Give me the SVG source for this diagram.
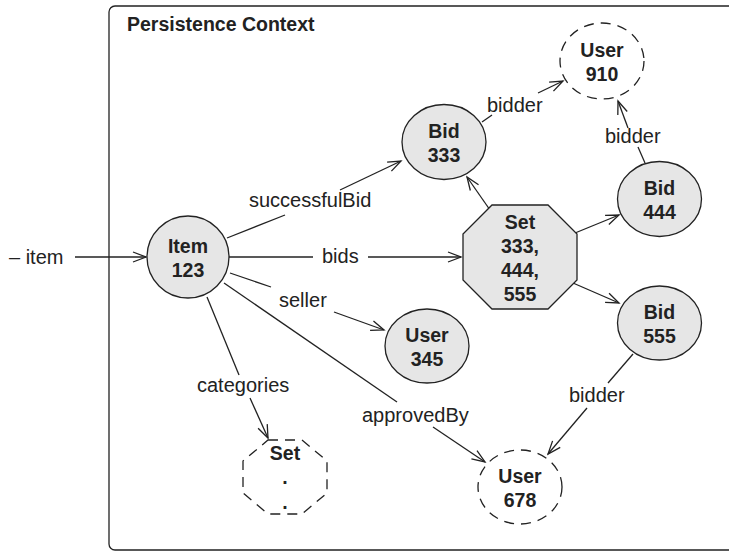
<svg xmlns="http://www.w3.org/2000/svg" width="729" height="552" viewBox="0 0 729 552">
<style>
text{font-family:"Liberation Sans",Arial,Helvetica,sans-serif;fill:#222}
.lbl{font-size:20px}
.nt{font-size:19.5px;font-weight:bold;text-anchor:middle}
.title{font-size:19.5px;font-weight:bold}
.node{fill:#e6e6e6;stroke:#222;stroke-width:1.3}
.dash{fill:none;stroke:#222;stroke-width:1.3;stroke-dasharray:10 7}
.c line{stroke:#222;stroke-width:1.3;fill:none}
</style>
<defs>
<marker id="arr" viewBox="-14 -7 16 14" refX="0" refY="0" markerWidth="16" markerHeight="14" orient="auto" markerUnits="userSpaceOnUse">
<path d="M-13,-5 L0,0 L-13,5" fill="none" stroke="#222" stroke-width="1.3"/>
</marker>
</defs>
<rect width="729" height="552" fill="#fff"/>
<g id="frame">
<path d="M740,6 H115 A6,6 0 0 0 109,12 V544 A6,6 0 0 0 115,550 H740" fill="none" stroke="#222" stroke-width="1.3"/>
<text class="title" x="127" y="31">Persistence Context</text>
</g>
<g class="c" id="connectors">
<line x1="75" y1="257" x2="146" y2="257" marker-end="url(#arr)"/>
<line x1="227" y1="238" x2="285" y2="215"/>
<line x1="340" y1="190" x2="401" y2="161" marker-end="url(#arr)"/>
<line x1="229" y1="257" x2="313" y2="257"/>
<line x1="368" y1="257" x2="461" y2="257" marker-end="url(#arr)"/>
<line x1="230" y1="273" x2="271" y2="287"/>
<line x1="334" y1="312" x2="384" y2="330" marker-end="url(#arr)"/>
<line x1="207" y1="297" x2="239" y2="375"/>
<line x1="250" y1="398" x2="268" y2="438" marker-end="url(#arr)"/>
<line x1="224" y1="283" x2="397" y2="402"/>
<line x1="433" y1="427" x2="485" y2="462" marker-end="url(#arr)"/>
<line x1="482" y1="122" x2="492" y2="115"/>
<line x1="538" y1="93" x2="563" y2="81" marker-end="url(#arr)"/>
<line x1="645" y1="163" x2="638" y2="147"/>
<line x1="628" y1="128" x2="618" y2="101" marker-end="url(#arr)"/>
<line x1="490" y1="210" x2="467" y2="177" marker-end="url(#arr)"/>
<line x1="575" y1="233" x2="619" y2="215" marker-end="url(#arr)"/>
<line x1="573" y1="283" x2="619" y2="303" marker-end="url(#arr)"/>
<line x1="633" y1="354" x2="608" y2="383"/>
<line x1="587" y1="408" x2="548" y2="454" marker-end="url(#arr)"/>
<text class="lbl" x="9" y="264">– item</text>
<text class="lbl" x="249" y="207">successfulBid</text>
<text class="lbl" x="322" y="263">bids</text>
<text class="lbl" x="279" y="307">seller</text>
<text class="lbl" x="197" y="392">categories</text>
<text class="lbl" x="362" y="422">approvedBy</text>
<text class="lbl" x="487" y="112">bidder</text>
<text class="lbl" x="605" y="143">bidder</text>
<text class="lbl" x="569" y="402">bidder</text>
</g>
<g id="item123">
<circle class="node" cx="188" cy="257" r="41"/>
<text class="nt" x="188" y="253">Item</text>
<text class="nt" x="188" y="277">123</text>
</g>
<g id="bid333">
<ellipse class="node" cx="444" cy="142" rx="42" ry="37.5"/>
<text class="nt" x="444" y="138">Bid</text>
<text class="nt" x="444" y="162">333</text>
</g>
<g id="user910">
<ellipse class="dash" cx="602" cy="61" rx="42" ry="38"/>
<text class="nt" x="602" y="57">User</text>
<text class="nt" x="602" y="81">910</text>
</g>
<g id="bid444">
<ellipse class="node" cx="659.5" cy="199" rx="42" ry="37.5"/>
<text class="nt" x="659.5" y="195">Bid</text>
<text class="nt" x="659.5" y="219">444</text>
</g>
<g id="setBids">
<polygon class="node" points="492,205 548,205 577,234 577,280 548,309 492,309 463,280 463,234"/>
<text class="nt" x="520" y="229">Set</text>
<text class="nt" x="520" y="253">333,</text>
<text class="nt" x="520" y="277">444,</text>
<text class="nt" x="520" y="301">555</text>
</g>
<g id="bid555">
<ellipse class="node" cx="659.5" cy="323" rx="42" ry="37"/>
<text class="nt" x="659.5" y="319">Bid</text>
<text class="nt" x="659.5" y="343">555</text>
</g>
<g id="user345">
<ellipse class="node" cx="427" cy="346" rx="42" ry="37"/>
<text class="nt" x="427" y="342">User</text>
<text class="nt" x="427" y="366">345</text>
</g>
<g id="user678">
<ellipse class="dash" cx="520" cy="487" rx="42" ry="37"/>
<text class="nt" x="520" y="483">User</text>
<text class="nt" x="520" y="507">678</text>
</g>
<g id="setCategories">
<polygon class="dash" points="268,440 302,440 327,461 327,493 302,514 268,514 243,493 243,461"/>
<text class="nt" x="285" y="460">Set</text>
<text class="nt" x="285" y="484">.</text>
<text class="nt" x="285" y="509">.</text>
</g>
</svg>
